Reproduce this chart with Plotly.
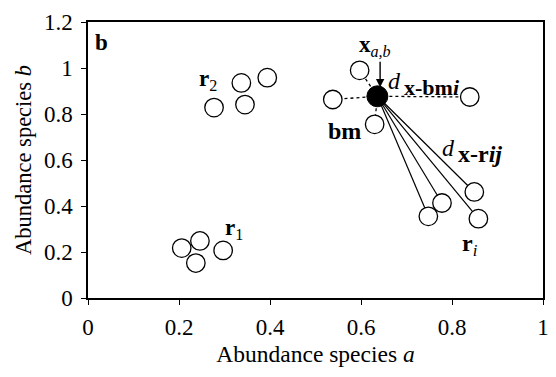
import plotly.graph_objects as go

# ---- data ----
r1_x = [0.206, 0.246, 0.237, 0.297]
r1_y = [0.217, 0.248, 0.152, 0.207]
r2_x = [0.277, 0.337, 0.345, 0.394]
r2_y = [0.828, 0.935, 0.841, 0.958]
bm_x = [0.597, 0.538, 0.630, 0.839]
bm_y = [0.990, 0.863, 0.755, 0.874]
ri_x = [0.849, 0.778, 0.748, 0.858]
ri_y = [0.461, 0.413, 0.355, 0.345]
xab_x = [0.636]
xab_y = [0.877]

x_tickvals = [0, 0.2, 0.4, 0.6, 0.8, 1.0]
x_ticktext = ["0", "0.2", "0.4", "0.6", "0.8", "1"]
y_tickvals = [0, 0.2, 0.4, 0.6, 0.8, 1.0, 1.2]
y_ticktext = ["0", "0.2", "0.4", "0.6", "0.8", "1", "1.2"]

FONT = "'Liberation Serif', 'Times New Roman', Times, serif"

fig = go.Figure()

# dotted distance lines to the bm cluster
dx, dy = [], []
for bx, by in zip(bm_x, bm_y):
    dx += [xab_x[0], bx, None]
    dy += [xab_y[0], by, None]
fig.add_trace(go.Scatter(x=dx, y=dy, mode="lines",
                         line=dict(color="black", width=1.3, dash="dot"),
                         hoverinfo="skip", showlegend=False))

# solid distance lines to the r_i cluster
sx, sy = [], []
for rx, ry in zip(ri_x, ri_y):
    sx += [xab_x[0], rx, None]
    sy += [xab_y[0], ry, None]
fig.add_trace(go.Scatter(x=sx, y=sy, mode="lines",
                         line=dict(color="black", width=1.2),
                         hoverinfo="skip", showlegend=False))

open_marker = dict(symbol="circle", size=18.5, color="white",
                   line=dict(color="black", width=1.3))
for xs, ys in [(r1_x, r1_y), (r2_x, r2_y), (bm_x, bm_y), (ri_x, ri_y)]:
    fig.add_trace(go.Scatter(x=xs, y=ys, mode="markers", marker=open_marker,
                             showlegend=False))

fig.add_trace(go.Scatter(x=xab_x, y=xab_y, mode="markers",
                         marker=dict(symbol="circle", size=21, color="black",
                                     line=dict(color="black", width=1)),
                         showlegend=False))

def txt(x, y, text, size=24):
    fig.add_annotation(x=x, y=y, xref="x", yref="y", text=text, showarrow=False,
                       font=dict(family=FONT, size=size, color="black"))

txt(0.029, 1.112, "<b>b</b>", 23)
txt(0.264, 0.950, "<b>r</b><sub>2</sub>", 23)
txt(0.320, 0.300, "<b>r</b><sub>1</sub>", 23)
txt(0.630, 1.094, "<b>x</b><sub><i>a,b</i></sub>", 23)
txt(0.674, 0.945, "<i>d</i>")
txt(0.755, 0.916, "<b>x-bm<i>i</i></b>", 22)
txt(0.563, 0.725, "<b>bm</b>")
txt(0.792, 0.652, "<i>d</i>")
txt(0.862, 0.628, "<b>x-r<i>ij</i></b>")
txt(0.840, 0.229, "<b>r</b><sub><i>i</i></sub>")

# arrow pointing to x_{a,b}
fig.add_annotation(x=0.642, y=0.916, ax=0.642, ay=1.034, xref="x", yref="y",
                   axref="x", ayref="y", text="", showarrow=True,
                   arrowhead=2, arrowsize=1.2, arrowwidth=1.4, arrowcolor="black")

axis_common = dict(showline=True, linecolor="black", linewidth=1.5, mirror=True,
                   ticks="outside", ticklen=5, tickcolor="black", tickwidth=1,
                   showgrid=False, zeroline=False,
                   tickfont=dict(family=FONT, size=23, color="black"))

fig.update_xaxes(range=[0, 1], tickvals=x_tickvals, ticktext=x_ticktext,
                 title=dict(text="Abundance species <i>a</i>",
                            font=dict(family=FONT, size=23.5, color="black"),
                            standoff=6),
                 ticklabelstandoff=3, **axis_common)
fig.update_yaxes(range=[0, 1.2], tickvals=y_tickvals, ticktext=y_ticktext,
                 title=dict(text="Abundance species <i>b</i>",
                            font=dict(family=FONT, size=22.5, color="black"),
                            standoff=6),
                 ticklabelstandoff=4, **axis_common)

fig.update_layout(width=556, height=377,
                  margin=dict(l=88, r=7, t=22, b=79),
                  plot_bgcolor="white", paper_bgcolor="white",
                  font=dict(family=FONT, color="black"),
                  showlegend=False)

fig.write_html("out.html")
